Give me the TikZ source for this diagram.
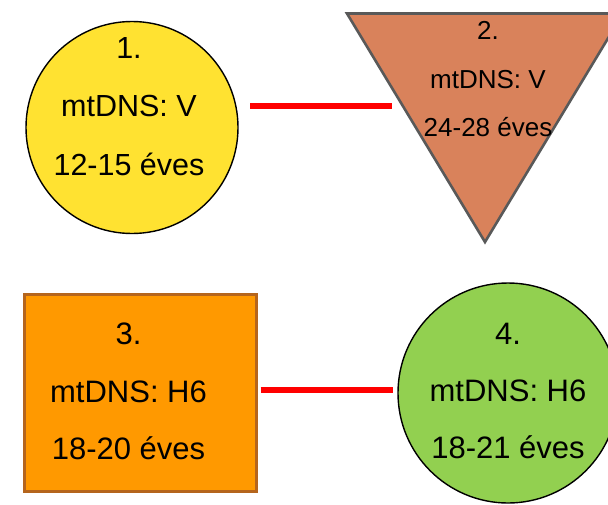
\documentclass[tikz,border=0pt]{standalone}
\usepackage{fontspec}
\setmainfont{Liberation Sans}
\usepackage{xcolor}
\usepackage{tikz}
\usetikzlibrary{calc,positioning}
\definecolor{yelc}{HTML}{FFE231}
\definecolor{tric}{HTML}{D9825B}
\definecolor{trid}{HTML}{595959}
\definecolor{orac}{HTML}{FF9900}
\definecolor{orad}{HTML}{B5651D}
\definecolor{grnc}{HTML}{92D050}
\definecolor{linkc}{HTML}{FF0000}
\newcommand{\lblfont}[2]{\fontsize{#1}{#2}\selectfont}
\tikzset{
  crc/.style={circle,draw=black,line width=1.4pt,inner sep=0pt,outer sep=0pt},
  sq/.style={rectangle,draw=orad,fill=orac,line width=2.6pt,inner sep=0pt,outer sep=0pt},
  lbl/.style={align=center,anchor=north,inner sep=0pt,text=black},
  link/.style={draw=linkc,line width=5.5pt}
}
\begin{document}
\begin{tikzpicture}[x=1pt,y=-1pt]
\clip (0,0) rectangle (608,504);
% shapes
\node[crc,fill=yelc,minimum size=212pt] (n1) at (132,127.5) {};
\coordinate (t1) at (347,13.5);
\coordinate (t2) at (623,13.5);
\coordinate (t3) at (485,242);
\draw[draw=trid,fill=tric,line width=2.6pt,line join=miter] (t1) -- (t2) -- (t3) -- cycle;
\node[sq,minimum width=232pt,minimum height=197pt] (n3) at (140.5,393) {};
\node[crc,fill=grnc,minimum size=220pt] (n4) at (508,393) {};
% texts
\node[lbl,font=\lblfont{30.5}{58.5}] (n1t) at (129,37.2) {1.\\mtDNS: V\\12-15 éves};
\node[lbl,font=\lblfont{26}{48.5}] (n2) at (488,21.4) {2.\\mtDNS: V\\24-28 éves};
\node[lbl,font=\lblfont{31}{57.5}] (n3t) at (128.5,322.8) {3.\\mtDNS: H6\\18-20 éves};
\node[lbl,font=\lblfont{31}{57}] (n4t) at (508,322.8) {4.\\mtDNS: H6\\18-21 éves};
% links
\coordinate (c2) at (392,106);
\draw[link] ([shift={(12,-21.5)}]n1.east) -- (c2);
\draw[link] ([shift={(4,-3)}]n3.east) -- ([shift={(-5,-3)}]n4.west);
\end{tikzpicture}
\end{document}
